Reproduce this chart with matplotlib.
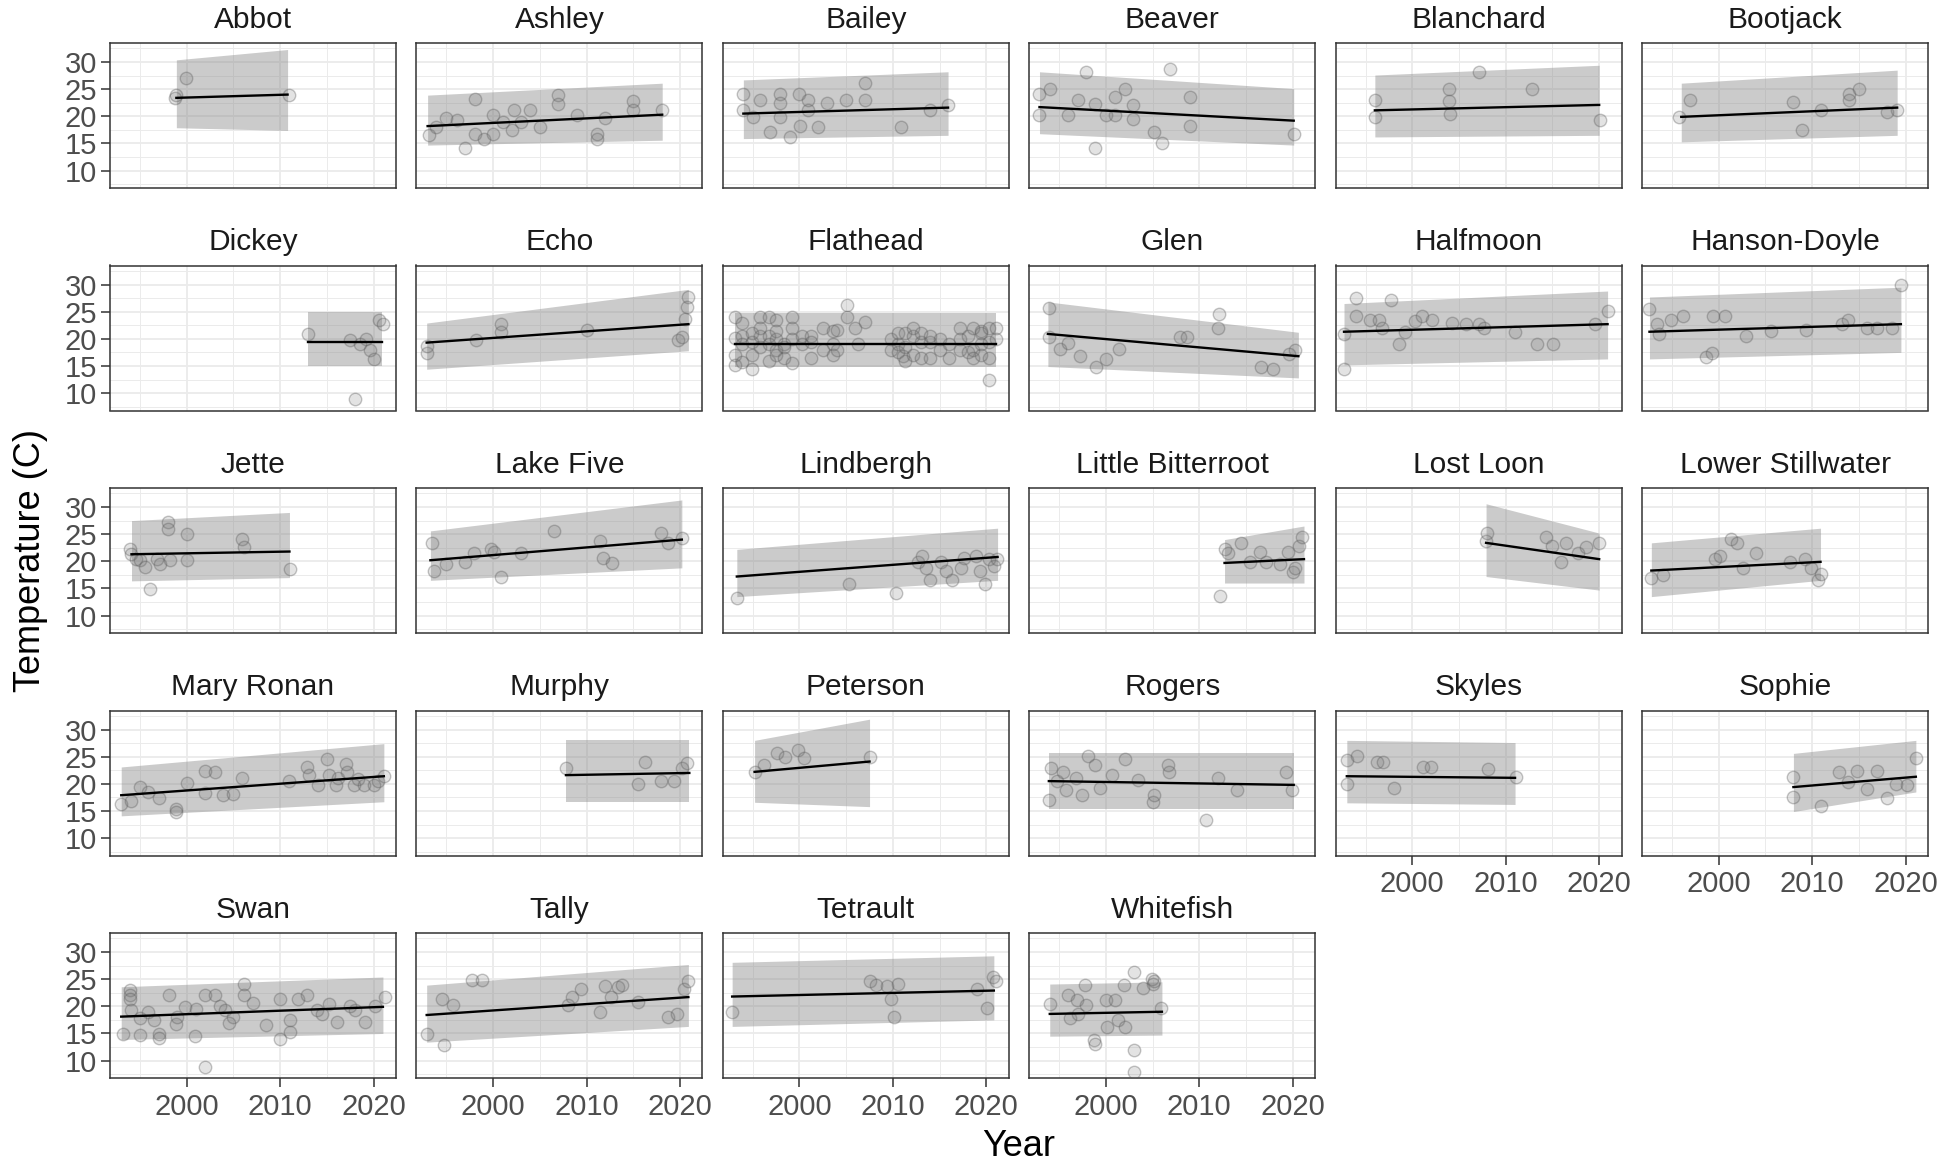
import matplotlib
matplotlib.use("Agg")
import matplotlib.pyplot as plt

plt.rcParams['font.family'] = ['Liberation Sans', 'DejaVu Sans']

# ---------------- data ----------------
lakes = ["Abbot", "Ashley", "Bailey", "Beaver", "Blanchard", "Bootjack",
         "Dickey", "Echo", "Flathead", "Glen", "Halfmoon", "Hanson-Doyle",
         "Jette", "Lake Five", "Lindbergh", "Little Bitterroot", "Lost Loon", "Lower Stillwater",
         "Mary Ronan", "Murphy", "Peterson", "Rogers", "Skyles", "Sophie",
         "Swan", "Tally", "Tetrault", "Whitefish"]

abbot_year = [1998.8, 1998.9, 1999.9, 2010.9]
abbot_temp = [23.3, 24.0, 27.0, 23.9]

ashley_year = [1993.1, 1993.9, 1995.0, 1996.1, 1997.0, 1998.1, 1998.1, 1999.0, 2000.0, 2000.0,
               2001.1, 2002.0, 2002.2, 2003.0, 2004.0, 2005.0, 2007.0, 2007.0, 2009.0, 2011.1,
               2011.1, 2012.0, 2015.0, 2015.0, 2018.1]
ashley_temp = [16.5, 18.1, 19.6, 19.3, 14.1, 23.1, 16.8, 15.9, 16.8, 20.2,
               19.0, 17.4, 21.1, 19.0, 21.1, 18.1, 23.9, 22.2, 20.2, 15.9,
               16.8, 19.6, 22.9, 21.1, 21.1]

bailey_year = [1994.0, 1994.0, 1995.0, 1995.8, 1996.8, 1997.9, 1997.9, 1997.9, 1999.0, 1999.9,
               2000.1, 2000.9, 2000.9, 2002.0, 2002.9, 2005.0, 2007.0, 2007.0, 2010.9, 2014.0, 2015.9]
bailey_temp = [24.2, 21.1, 19.9, 23.0, 17.1, 24.2, 22.4, 19.9, 16.2, 24.2,
               18.2, 23.0, 21.1, 18.1, 22.4, 23.0, 26.1, 23.0, 18.1, 21.1, 22.1]

beaver_year = [1992.9, 1992.9, 1994.0, 1996.0, 1997.0, 1997.9, 1998.8, 1998.8, 2000.0, 2001.0,
               2001.0, 2002.1, 2002.9, 2002.9, 2005.1, 2006.0, 2006.9, 2009.0, 2009.0, 2020.1]
beaver_temp = [24.2, 20.2, 25.1, 20.2, 23.0, 28.2, 14.1, 22.2, 20.2, 23.6,
               20.2, 25.1, 22.1, 19.5, 17.1, 15.0, 28.8, 23.6, 18.2, 16.8]

blanchard_year = [1996.0, 1996.0, 2003.9, 2003.9, 2004.0, 2007.1, 2012.8, 2020.1]
blanchard_temp = [23.0, 19.9, 25.1, 22.8, 20.5, 28.2, 25.1, 19.3]

bootjack_year = [1995.8, 1996.9, 2008.0, 2008.9, 2011.0, 2013.9, 2014.0, 2015.0, 2018.0, 2019.1]
bootjack_temp = [19.9, 23.0, 22.7, 17.4, 21.1, 24.2, 23.0, 25.1, 20.8, 21.1]

dickey_year = [2013.0, 2017.5, 2018.5, 2019.2, 2019.6, 2020.0, 2018.0, 2020.6, 2021.0]
dickey_temp = [20.8, 19.7, 19.0, 19.9, 17.9, 16.3, 9.0, 23.5, 22.7]

echo_year = [1992.9, 1992.9, 1998.2, 2000.8, 2000.9, 2010.1, 2019.8, 2020.2, 2020.9, 2020.8, 2020.5]
echo_temp = [17.4, 18.6, 19.7, 22.7, 21.3, 21.7, 19.7, 20.4, 27.7, 25.9, 23.6]

flathead_year = [1993.1, 1993.1, 1993.1, 1993.1, 1993.9, 1993.9, 1993.9, 1993.9,
                 1994.9, 1994.9, 1994.9, 1994.9, 1995.8, 1995.8, 1995.8, 1995.8,
                 1996.7, 1996.7, 1996.7, 1996.7, 1997.5, 1997.5, 1997.5, 1997.5, 1997.5,
                 1998.4, 1998.4, 1998.4, 1999.2, 1999.2, 1999.2, 1999.2,
                 2000.3, 2000.3, 2001.2, 2001.2, 2001.2, 2002.5, 2002.5,
                 2003.6, 2003.6, 2003.6, 2004.0, 2004.0, 2005.1, 2005.1, 2005.9, 2006.3, 2007.0,
                 2009.8, 2009.8, 2010.5, 2010.5, 2010.5, 2011.1, 2011.3, 2011.3, 2011.3,
                 2012.2, 2012.2, 2012.2, 2013.0, 2013.0, 2013.0, 2014.0, 2014.0, 2014.0,
                 2015.0, 2015.0, 2016.0, 2016.0, 2017.2, 2017.2, 2017.2, 2018.0, 2018.0,
                 2018.6, 2018.6, 2018.6, 2019.4, 2019.4, 2019.4, 2019.4,
                 2020.3, 2020.3, 2020.3, 2020.3, 2021.0, 2021.0]
flathead_temp = [15.2, 17.1, 20.1, 24.1, 20.5, 19.0, 15.8, 23.0,
                 21.0, 19.5, 17.0, 14.5, 24.0, 20.5, 18.5, 22.0,
                 20.5, 19.0, 24.0, 16.0, 20.0, 18.0, 23.5, 21.5, 17.0,
                 19.0, 16.5, 18.5, 20.0, 22.0, 24.0, 15.5,
                 20.5, 19.0, 20.5, 19.5, 16.5, 18.0, 22.0,
                 21.5, 19.0, 17.0, 21.6, 18.0, 26.2, 24.1, 22.0, 19.0, 23.1,
                 20.0, 18.0, 19.0, 17.5, 21.0, 16.8, 21.0, 18.5, 16.0,
                 20.5, 17.0, 22.0, 19.5, 16.5, 21.0, 19.5, 16.5, 20.5,
                 18.0, 20.0, 16.5, 19.0, 18.0, 22.0, 20.0, 20.5, 17.5,
                 22.0, 18.0, 16.5, 21.5, 19.0, 17.0, 21.0,
                 22.0, 19.5, 16.5, 12.5, 22.0, 20.0]

glen_year = [1993.9, 1993.9, 1995.1, 1996.0, 1997.2, 1998.9, 2000.0, 2001.4, 2007.9, 2008.7,
             2012.0, 2012.1, 2016.6, 2017.9, 2020.2, 2019.6]
glen_temp = [25.6, 20.4, 18.2, 19.3, 16.8, 14.9, 16.3, 18.2, 20.4, 20.4,
             22.0, 24.6, 14.9, 14.4, 17.9, 17.2]

halfmoon_year = [1992.7, 1992.7, 1994.0, 1994.0, 1995.5, 1996.4, 1996.8, 1997.7, 1998.6, 1999.2,
                 2000.3, 2001.0, 2002.1, 2004.3, 2005.7, 2007.1, 2007.7, 2011.0, 2013.4, 2015.1,
                 2019.6, 2020.9]
halfmoon_temp = [20.9, 14.4, 27.6, 24.2, 23.5, 23.5, 21.9, 27.2, 19.0, 21.3,
                 23.2, 24.2, 23.5, 23.0, 22.7, 22.7, 21.9, 21.3, 19.0, 19.0,
                 22.7, 25.1]

hanson_doyle_year = [1992.6, 1993.4, 1993.6, 1994.9, 1996.2, 1998.7, 1999.3, 1999.4, 2000.7, 2002.9,
                     2005.6, 2009.3, 2013.2, 2013.8, 2015.9, 2016.9, 2018.5, 2019.5]
hanson_doyle_temp = [25.4, 22.7, 20.9, 23.5, 24.2, 16.6, 17.3, 24.2, 24.2, 20.6,
                     21.5, 21.7, 22.7, 23.5, 21.9, 21.9, 22.0, 30.0]

jette_year = [1993.9, 1994.1, 1994.6, 1995.0, 1995.5, 1996.1, 1996.8, 1997.1, 1998.0, 1998.0,
              1998.2, 2000.0, 2000.0, 2005.9, 2006.1, 2011.1]
jette_temp = [22.2, 21.3, 20.4, 20.2, 19.0, 14.9, 20.4, 19.5, 27.2, 26.0,
              20.2, 25.0, 20.2, 24.1, 22.6, 18.6]

lake_five_year = [1993.5, 1993.7, 1995.0, 1997.0, 1998.0, 1999.8, 2000.1, 2000.8, 2003.0, 2006.5,
                  2011.4, 2011.8, 2012.7, 2018.0, 2018.7, 2020.2]
lake_five_temp = [23.4, 18.3, 19.5, 19.9, 21.5, 22.2, 21.8, 17.2, 21.5, 25.6,
                  23.8, 20.6, 19.7, 25.2, 23.4, 24.3]

lindbergh_year = [1993.3, 2005.3, 2010.3, 2012.7, 2013.1, 2013.5, 2014.0, 2015.1, 2015.7, 2016.3,
                  2017.3, 2017.6, 2018.9, 2019.3, 2019.9, 2020.3, 2020.8, 2021.1]
lindbergh_temp = [13.3, 15.8, 14.2, 19.9, 21.0, 18.8, 16.5, 19.9, 18.3, 16.5,
                  18.8, 20.6, 21.0, 18.3, 15.8, 20.4, 19.2, 20.4]

little_bitterroot_year = [2012.2, 2012.8, 2013.1, 2014.5, 2015.4, 2016.5, 2017.1, 2018.6, 2019.5,
                          2020.0, 2020.2, 2020.7, 2021.0]
little_bitterroot_temp = [13.7, 22.2, 21.5, 23.3, 19.9, 21.8, 19.9, 19.5, 21.8,
                          18.0, 18.8, 22.9, 24.4]

lost_loon_year = [2007.9, 2008.0, 2014.3, 2014.9, 2015.9, 2016.5, 2017.7, 2018.6, 2020.0]
lost_loon_temp = [23.8, 25.2, 24.5, 22.9, 19.9, 23.4, 21.5, 22.7, 23.4]

lower_stillwater_year = [1992.8, 1994.0, 1999.6, 2000.1, 2001.3, 2002.0, 2002.6, 2004.0, 2007.6,
                         2009.2, 2009.9, 2010.6, 2010.9]
lower_stillwater_temp = [16.9, 17.4, 20.4, 21.0, 24.2, 23.4, 18.8, 21.5, 19.9,
                         20.4, 18.8, 16.5, 17.6]

mary_ronan_year = [1993.0, 1994.1, 1995.0, 1995.9, 1997.0, 1998.9, 1998.9, 2000.0, 2002.0, 2003.0,
                   2002.0, 2003.9, 2005.0, 2005.9, 2010.9, 2012.9, 2013.1, 2014.1, 2015.0, 2015.2,
                   2016.0, 2016.2, 2017.0, 2017.2, 2017.9, 2018.3, 2019.0, 2020.0, 2020.5, 2021.1]
mary_ronan_temp = [16.2, 16.9, 19.4, 18.5, 17.3, 15.4, 14.8, 20.2, 22.3, 22.1,
                   18.4, 17.9, 18.2, 21.1, 20.6, 23.1, 21.6, 19.8, 24.6, 21.6,
                   19.8, 21.1, 23.7, 22.2, 19.8, 20.9, 19.8, 19.8, 20.6, 21.4]

murphy_year = [2007.8, 2015.5, 2016.3, 2018.0, 2019.4, 2020.2, 2020.8]
murphy_temp = [22.9, 19.9, 24.1, 20.6, 20.6, 22.9, 23.8]

peterson_year = [1995.2, 1996.2, 1997.6, 1998.5, 1999.8, 2000.5, 2007.5]
peterson_temp = [22.2, 23.4, 25.7, 24.9, 26.2, 24.8, 24.9]

rogers_year = [1993.9, 1994.1, 1994.8, 1995.4, 1995.7, 1996.8, 1997.4, 1998.1, 1998.8, 1999.4,
               2000.7, 2002.1, 2003.4, 2005.0, 2005.2, 2006.7, 2006.8, 2010.7, 2012.0, 2014.0,
               2019.3, 2019.9]
rogers_temp = [17.0, 22.9, 20.5, 22.2, 18.8, 21.1, 17.9, 25.2, 23.4, 19.3,
               21.6, 24.5, 20.7, 16.6, 17.9, 23.4, 22.2, 13.4, 21.1, 18.8,
               22.2, 18.8]

skyles_year = [1993.0, 1994.1, 1993.0, 1996.2, 1996.9, 1998.0, 2001.1, 2002.0, 2008.1, 2011.1]
skyles_temp = [24.3, 25.2, 20.0, 24.0, 24.0, 19.2, 23.1, 23.1, 22.7, 21.3]

sophie_year = [2008.0, 2008.0, 2010.9, 2012.9, 2013.8, 2014.8, 2015.9, 2016.9, 2018.0, 2019.0,
               2020.1, 2021.1]
sophie_temp = [21.3, 17.6, 16.0, 22.1, 20.4, 22.3, 19.1, 22.3, 17.3, 19.9,
               19.8, 24.7]

swan_year = [1993.2, 1993.9, 1993.9, 1993.9, 1994.0, 1995.0, 1995.0, 1995.9, 1997.0, 1997.0,
             1998.1, 1998.9, 1999.8, 2000.9, 2001.0, 2002.0, 2002.0, 2003.0, 2003.6, 2004.1,
             2005.0, 2006.1, 2006.1, 2007.1, 2010.0, 2010.0, 2011.1, 2011.1, 2011.9, 2012.9,
             2013.9, 2015.2, 2016.1, 2018.0, 2019.1, 2020.2, 2021.2,
             1996.5, 1999.0, 2004.5, 2008.5, 2014.5, 2017.5]
swan_temp = [14.9, 23.0, 22.1, 21.3, 19.3, 17.8, 14.8, 19.0, 14.9, 14.2,
             22.1, 16.8, 19.9, 14.5, 19.5, 8.8, 22.1, 22.1, 20.0, 19.4,
             18.0, 24.1, 22.1, 20.6, 21.3, 14.0, 17.5, 15.2, 21.3, 22.1,
             19.4, 20.4, 17.2, 19.4, 17.2, 20.0, 21.8,
             17.5, 18.0, 17.0, 16.5, 18.5, 20.0]

tally_year = [1992.9, 1994.7, 1994.5, 1995.7, 1997.7, 1998.8, 2008.0, 2008.5, 2009.4, 2011.4,
              2012.0, 2012.6, 2013.4, 2013.8, 2015.5, 2018.7, 2019.7, 2020.4, 2020.9]
tally_temp = [14.9, 12.8, 21.3, 20.3, 24.8, 24.8, 20.3, 21.7, 23.1, 19.0,
              23.8, 21.7, 23.6, 24.0, 20.8, 18.0, 18.5, 23.1, 24.7]

tetrault_year = [1992.8, 2007.5, 2008.2, 2009.4, 2009.8, 2010.1, 2010.5, 2019.0, 2020.1, 2020.7, 2021.0]
tetrault_temp = [19.0, 24.7, 24.0, 23.8, 21.3, 18.1, 24.2, 23.1, 19.7, 25.4, 24.7]

whitefish_year = [1994.0, 1996.0, 1996.2, 1996.9, 1997.0, 1997.8, 1997.9, 1998.7, 1998.8, 2000.0,
                  2000.1, 2001.0, 2001.3, 2001.9, 2002.1, 2003.0, 2003.0, 2003.0, 2004.0, 2004.9,
                  2005.0, 2005.1, 2005.9]
whitefish_temp = [20.5, 22.1, 17.8, 21.2, 18.6, 23.9, 20.2, 13.8, 13.1, 21.2,
                  16.2, 21.2, 17.5, 23.9, 16.2, 11.9, 7.9, 26.4, 23.3, 25.1,
                  24.2, 24.6, 19.6]

# fitted trend line and prediction band read at both ends of each lake's record
fit_x0 = [1998.9, 1993.0, 1994.0, 1992.9, 1996.0, 1996.0, 2013.0, 1992.9, 1993.1, 1993.8,
          1992.7, 1992.6, 1994.1, 1993.3, 1993.3, 2012.7, 2007.9, 1992.8, 1993.0, 2007.8,
          1995.2, 1993.9, 1993.0, 2008.0, 1993.0, 1992.9, 1992.8, 1994.0]
fit_x1 = [2010.8, 2018.1, 2015.9, 2020.1, 2020.0, 2019.1, 2020.9, 2020.9, 2021.0, 2020.6,
          2020.9, 2019.5, 2011.0, 2020.2, 2021.2, 2021.2, 2020.0, 2010.9, 2021.1, 2021.0,
          2007.5, 2020.1, 2011.0, 2021.1, 2021.0, 2020.9, 2020.8, 2006.0]
fit_y0 = [23.4, 18.2, 20.5, 21.7, 21.1, 19.9, 19.5, 19.3, 19.0, 20.9,
          21.3, 21.3, 21.3, 20.2, 17.2, 19.7, 23.4, 18.3, 17.9, 21.6,
          22.2, 20.5, 21.4, 19.4, 18.1, 18.4, 21.8, 18.6]
fit_y1 = [24.0, 20.3, 21.6, 19.2, 22.1, 21.6, 19.5, 22.7, 19.0, 16.8,
          22.7, 22.7, 21.8, 24.0, 20.8, 20.4, 20.4, 19.9, 21.4, 22.0,
          24.1, 19.8, 21.1, 21.3, 19.9, 21.7, 22.9, 19.0]
band_lo0 = [17.9, 14.7, 15.9, 16.8, 16.2, 15.3, 15.0, 14.4, 14.8, 14.9,
            15.2, 16.3, 16.4, 16.5, 13.5, 16.0, 17.2, 13.5, 14.1, 16.6,
            16.6, 15.4, 16.5, 14.9, 13.9, 13.4, 16.3, 14.5]
band_lo1 = [17.4, 15.6, 16.5, 14.7, 16.5, 16.5, 15.0, 17.8, 14.8, 12.8,
            16.3, 17.5, 17.0, 18.8, 16.5, 16.0, 14.7, 16.5, 16.7, 16.6,
            15.8, 15.4, 16.2, 18.5, 15.0, 16.3, 17.5, 14.7]
band_hi0 = [30.4, 23.9, 26.7, 28.2, 27.6, 26.1, 25.0, 22.9, 24.7, 26.8,
            26.5, 27.7, 27.5, 25.6, 22.2, 24.0, 30.6, 23.4, 23.1, 28.0,
            28.0, 25.6, 28.0, 25.6, 23.6, 23.9, 28.1, 24.1]
band_hi1 = [32.3, 26.1, 28.2, 25.1, 29.4, 28.5, 25.0, 29.1, 24.7, 21.2,
            28.8, 29.5, 29.0, 31.3, 26.1, 26.5, 25.2, 26.1, 27.4, 28.0,
            31.9, 25.6, 27.6, 28.0, 25.4, 27.7, 29.3, 24.5]

x_ticks = [2000, 2010, 2020]
y_ticks = [10, 15, 20, 25, 30]

obs = {
    "Abbot": (abbot_year, abbot_temp), "Ashley": (ashley_year, ashley_temp),
    "Bailey": (bailey_year, bailey_temp), "Beaver": (beaver_year, beaver_temp),
    "Blanchard": (blanchard_year, blanchard_temp), "Bootjack": (bootjack_year, bootjack_temp),
    "Dickey": (dickey_year, dickey_temp), "Echo": (echo_year, echo_temp),
    "Flathead": (flathead_year, flathead_temp), "Glen": (glen_year, glen_temp),
    "Halfmoon": (halfmoon_year, halfmoon_temp), "Hanson-Doyle": (hanson_doyle_year, hanson_doyle_temp),
    "Jette": (jette_year, jette_temp), "Lake Five": (lake_five_year, lake_five_temp),
    "Lindbergh": (lindbergh_year, lindbergh_temp),
    "Little Bitterroot": (little_bitterroot_year, little_bitterroot_temp),
    "Lost Loon": (lost_loon_year, lost_loon_temp),
    "Lower Stillwater": (lower_stillwater_year, lower_stillwater_temp),
    "Mary Ronan": (mary_ronan_year, mary_ronan_temp), "Murphy": (murphy_year, murphy_temp),
    "Peterson": (peterson_year, peterson_temp), "Rogers": (rogers_year, rogers_temp),
    "Skyles": (skyles_year, skyles_temp), "Sophie": (sophie_year, sophie_temp),
    "Swan": (swan_year, swan_temp), "Tally": (tally_year, tally_temp),
    "Tetrault": (tetrault_year, tetrault_temp), "Whitefish": (whitefish_year, whitefish_temp),
}

# ---------------- layout ----------------
W, H = 1939, 1169
fig = plt.figure(figsize=(W / 100, H / 100), dpi=100)
fig.patch.set_facecolor("white")

PW, PH = 286, 145
text_col = "#4D4D4D"
for i, lake in enumerate(lakes):
    r, c = divmod(i, 6)
    left = 110 + 306.4 * c
    top = 43 + 222.5 * r
    ax = fig.add_axes([left / W, 1 - (top + PH) / H, PW / W, PH / H])
    ax.set_xlim(1991.8, 2022.4)
    ax.set_ylim(6.8, 33.5)
    ax.set_xticks(x_ticks)
    ax.set_xticks([1995, 2005, 2015], minor=True)
    ax.set_yticks(y_ticks)
    ax.set_yticks([7.5, 12.5, 17.5, 22.5, 27.5, 32.5], minor=True)
    ax.grid(which="major", color="#EBEBEB", lw=1.3)
    ax.grid(which="minor", color="#EBEBEB", lw=0.7)
    ax.set_axisbelow(True)

    ax.fill_between([fit_x0[i], fit_x1[i]], [band_lo0[i], band_lo1[i]],
                    [band_hi0[i], band_hi1[i]], color="#8C8C8C", alpha=0.45, lw=0, zorder=2)
    yrs, tmp = obs[lake]
    ax.scatter(yrs, tmp, s=80, facecolor=(0.45, 0.45, 0.45, 0.2),
               edgecolor=(0.35, 0.35, 0.35, 0.35), lw=1.0, zorder=3)
    ax.plot([fit_x0[i], fit_x1[i]], [fit_y0[i], fit_y1[i]], color="black", lw=1.7, zorder=4)

    for sp in ax.spines.values():
        sp.set_color("#333333")
        sp.set_linewidth(1.1)

    show_x = (r == 4) or (r == 3 and c >= 4)
    show_y = (c == 0)
    ax.tick_params(axis="x", which="major", labelbottom=show_x, length=6.5 if show_x else 0,
                   width=1.1, color="#333333", labelsize=21, labelcolor=text_col, pad=4)
    ax.tick_params(axis="y", which="major", labelleft=show_y, length=6.5 if show_y else 0,
                   width=1.1, color="#333333", labelsize=21, labelcolor=text_col, pad=3)
    ax.tick_params(which="minor", length=0)
    ax.set_title(lake, fontsize=21.5, color="#1A1A1A", pad=11)

fig.text(1019 / W, 1 - 1147 / H, "Year", ha="center", va="center", fontsize=26, color="black")
fig.text(31 / W, 1 - 560 / H, "Temperature (C)", ha="center", va="center", rotation=90,
         fontsize=26, color="black")

fig.savefig("out.png", dpi=100, facecolor="white")
